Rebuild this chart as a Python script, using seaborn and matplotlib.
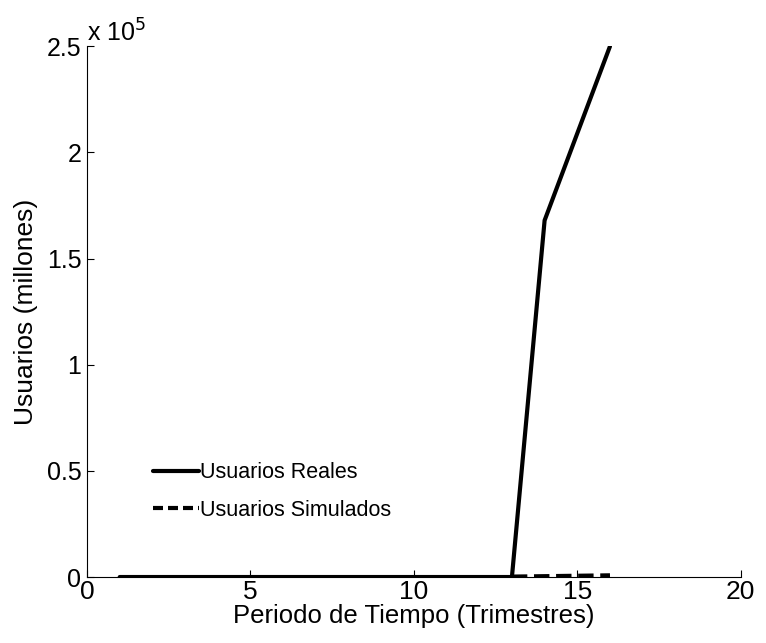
import matplotlib
matplotlib.use("Agg")
import matplotlib.pyplot as plt
import seaborn as sns
import pandas as pd
from matplotlib.ticker import FuncFormatter

periodo_reales = [1, 2, 3, 4, 5, 6, 7, 8, 9, 10, 11, 12, 13, 14, 15, 16]
usuarios_reales = [0, 0, 0, 0, 0, 0, 0, 0, 0, 0, 0, 0, 0, 168000, 209000, 250000]
periodo_simulados = [13, 14, 15, 16]
usuarios_simulados = [200, 400, 600, 800]

sns.set_theme(style="white")
plt.rcParams['font.family'] = ['Liberation Sans', 'DejaVu Sans']
plt.rcParams['text.color'] = 'black'

fig = plt.figure(figsize=(7.66, 6.43), dpi=100)
ax = fig.add_axes([0.1136, 0.1026, 0.8534, 0.8254])

df_r = pd.DataFrame({"x": periodo_reales, "y": usuarios_reales})
df_s = pd.DataFrame({"x": periodo_simulados, "y": usuarios_simulados})
sns.lineplot(data=df_r, x="x", y="y", ax=ax, color="black", linewidth=3,
             label="Usuarios Reales")
sns.lineplot(data=df_s, x="x", y="y", ax=ax, color="black", linewidth=3,
             linestyle="--", dashes=(2.4, 1.2), label="Usuarios Simulados")

ax.set_xlim(0, 20)
ax.set_ylim(0, 250000)
ax.set_xticks([0, 5, 10, 15, 20])
ax.set_yticks([0, 50000, 100000, 150000, 200000, 250000])
ax.yaxis.set_major_formatter(FuncFormatter(lambda v, p: "%g" % (v / 1e5)))
ax.tick_params(direction="in", length=5, width=0.8, colors="black",
               left=True, bottom=True)
ax.tick_params(axis="y", labelsize=18, pad=4)
ax.tick_params(axis="x", labelsize=19, pad=2)
for s in ["top", "right"]:
    ax.spines[s].set_visible(False)
for s in ["left", "bottom"]:
    ax.spines[s].set_color("black")
    ax.spines[s].set_linewidth(0.8)

ax.set_xlabel("Periodo de Tiempo (Trimestres)", fontsize=18.5, labelpad=0, color="black")
ax.set_ylabel("Usuarios (millones)", fontsize=19, labelpad=6, color="black")

ax.text(0.0, 1.0, "x 10$^{5}$", transform=ax.transAxes, fontsize=18,
        ha="left", va="bottom", color="black")

leg = ax.legend(loc="lower left", bbox_to_anchor=(0.072, 0.07), frameon=False,
                fontsize=15.5, handlelength=2.1, handletextpad=0.05, labelspacing=0.75)
for t in leg.get_texts():
    t.set_color("black")
leg.get_lines()[1].set_dashes((2.4, 1.2))

fig.savefig("out.png", dpi=100)
